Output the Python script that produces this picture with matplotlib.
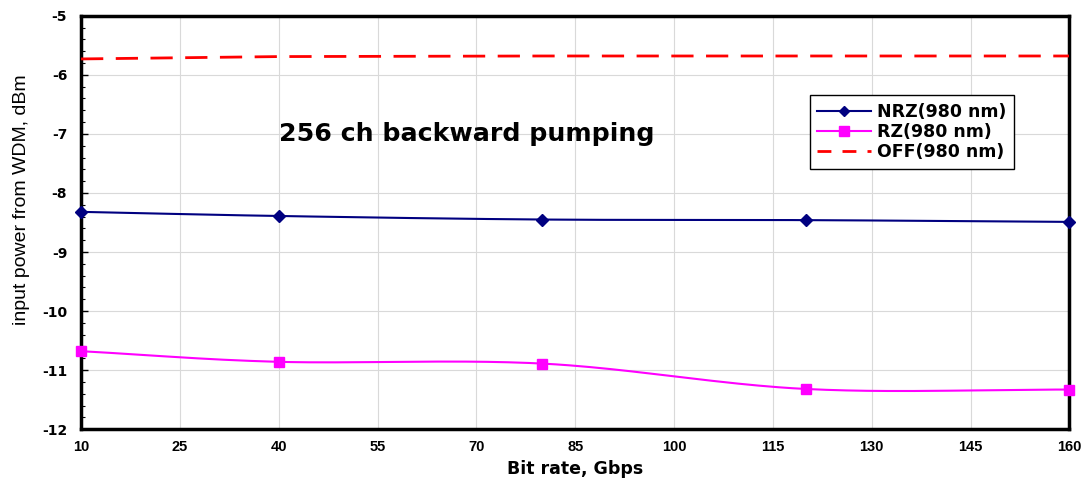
import numpy as np
import matplotlib
matplotlib.use("Agg")
import matplotlib.pyplot as plt
from matplotlib.ticker import MultipleLocator

bit_rate = [10, 40, 80, 120, 160]
nrz = [-8.32, -8.39, -8.45, -8.46, -8.49]
rz = [-10.68, -10.86, -10.89, -11.32, -11.33]
off = [-5.73, -5.69, -5.68, -5.68, -5.68]

xticks = [10, 25, 40, 55, 70, 85, 100, 115, 130, 145, 160]
yticks = [-12, -11, -10, -9, -8, -7, -6, -5]


def smooth(x, y, n=40):
    # Catmull-Rom spline through the points (like Excel smoothed line)
    x = np.asarray(x, float); y = np.asarray(y, float)
    px = np.concatenate([[2 * x[0] - x[1]], x, [2 * x[-1] - x[-2]]])
    py = np.concatenate([[2 * y[0] - y[1]], y, [2 * y[-1] - y[-2]]])
    xs, ys = [], []
    for i in range(1, len(px) - 2):
        t = np.linspace(0, 1, n)
        for arr, out in ((px, xs), (py, ys)):
            p0, p1, p2, p3 = arr[i - 1], arr[i], arr[i + 1], arr[i + 2]
            out.extend(0.5 * ((2 * p1) + (-p0 + p2) * t
                              + (2 * p0 - 5 * p1 + 4 * p2 - p3) * t ** 2
                              + (-p0 + 3 * p1 - 3 * p2 + p3) * t ** 3))
    return np.array(xs), np.array(ys)


plt.rcParams['font.family'] = ['Liberation Sans', 'DejaVu Sans']
plt.rcParams['axes.unicode_minus'] = False
wide = ['DejaVu Sans']

fig = plt.figure(figsize=(10.85, 4.8), dpi=100)
ax = fig.add_axes([0.0747, 0.106, 0.911, 0.861])

navy = '#000080'
mag = '#FF00FF'
red = '#FF0000'

sx, sy = smooth(bit_rate, nrz)
ax.plot(sx, sy, color=navy, lw=1.5, zorder=3)
ax.plot(bit_rate, nrz, ls='none', marker='D', ms=6, color=navy, zorder=4, clip_on=False)
sx, sy = smooth(bit_rate, rz)
ax.plot(sx, sy, color=mag, lw=1.5, zorder=3)
ax.plot(bit_rate, rz, ls='none', marker='s', ms=7, color=mag, zorder=4, clip_on=False)
ax.plot(bit_rate, off, color=red, lw=2, dashes=(8, 4.5), zorder=3)

# legend proxies
h1, = ax.plot([], [], color=navy, lw=1.5, marker='D', ms=5, label='NRZ(980 nm)')
h2, = ax.plot([], [], color=mag, lw=1.5, marker='s', ms=6.5, label='RZ(980 nm)')
h3, = ax.plot([], [], color=red, lw=2, dashes=(5, 4), label='OFF(980 nm)')
leg = ax.legend(handles=[h1, h2, h3], loc='upper left', bbox_to_anchor=(0.737, 0.809),
                borderaxespad=0, frameon=True, fancybox=False, edgecolor='black',
                framealpha=1, prop={'family': wide, 'weight': 'bold', 'size': 12.5},
                handlelength=3.1, borderpad=0.45, labelspacing=0.13,
                handletextpad=0.35)
leg.get_frame().set_linewidth(1.0)

ax.text(40, -7, '256 ch backward pumping', fontsize=18.2, fontweight='bold',
        family=wide, ha='left', va='center')

ax.set_xlim(10, 160)
ax.set_ylim(-12, -5)
ax.set_xticks(xticks)
ax.set_yticks(yticks)
ax.yaxis.set_minor_locator(MultipleLocator(0.2))
ax.grid(True, which='major', color='#d9d9d9', lw=0.8)
ax.tick_params(axis='both', which='major', direction='in', length=5, width=1)
ax.tick_params(axis='y', which='minor', direction='in', length=3, width=0.8)
ax.tick_params(axis='x', which='major', length=0, pad=8, labelsize=10.5)
ax.tick_params(axis='y', which='major', pad=10, labelsize=10)
for lab in ax.get_xticklabels():
    lab.set_fontweight('bold')
for lab in ax.get_yticklabels():
    lab.set_fontweight('bold')
    lab.set_family(wide)
for s in ax.spines.values():
    s.set_linewidth(2.5)

ax.set_xlabel('Bit rate, Gbps', fontsize=12.5, fontweight='bold', family=wide,
              labelpad=4)
ax.set_ylabel('input power from WDM, dBm', fontsize=14)
ax.yaxis.set_label_coords(-0.052, 0.554)

fig.savefig('out.png', dpi=100)
